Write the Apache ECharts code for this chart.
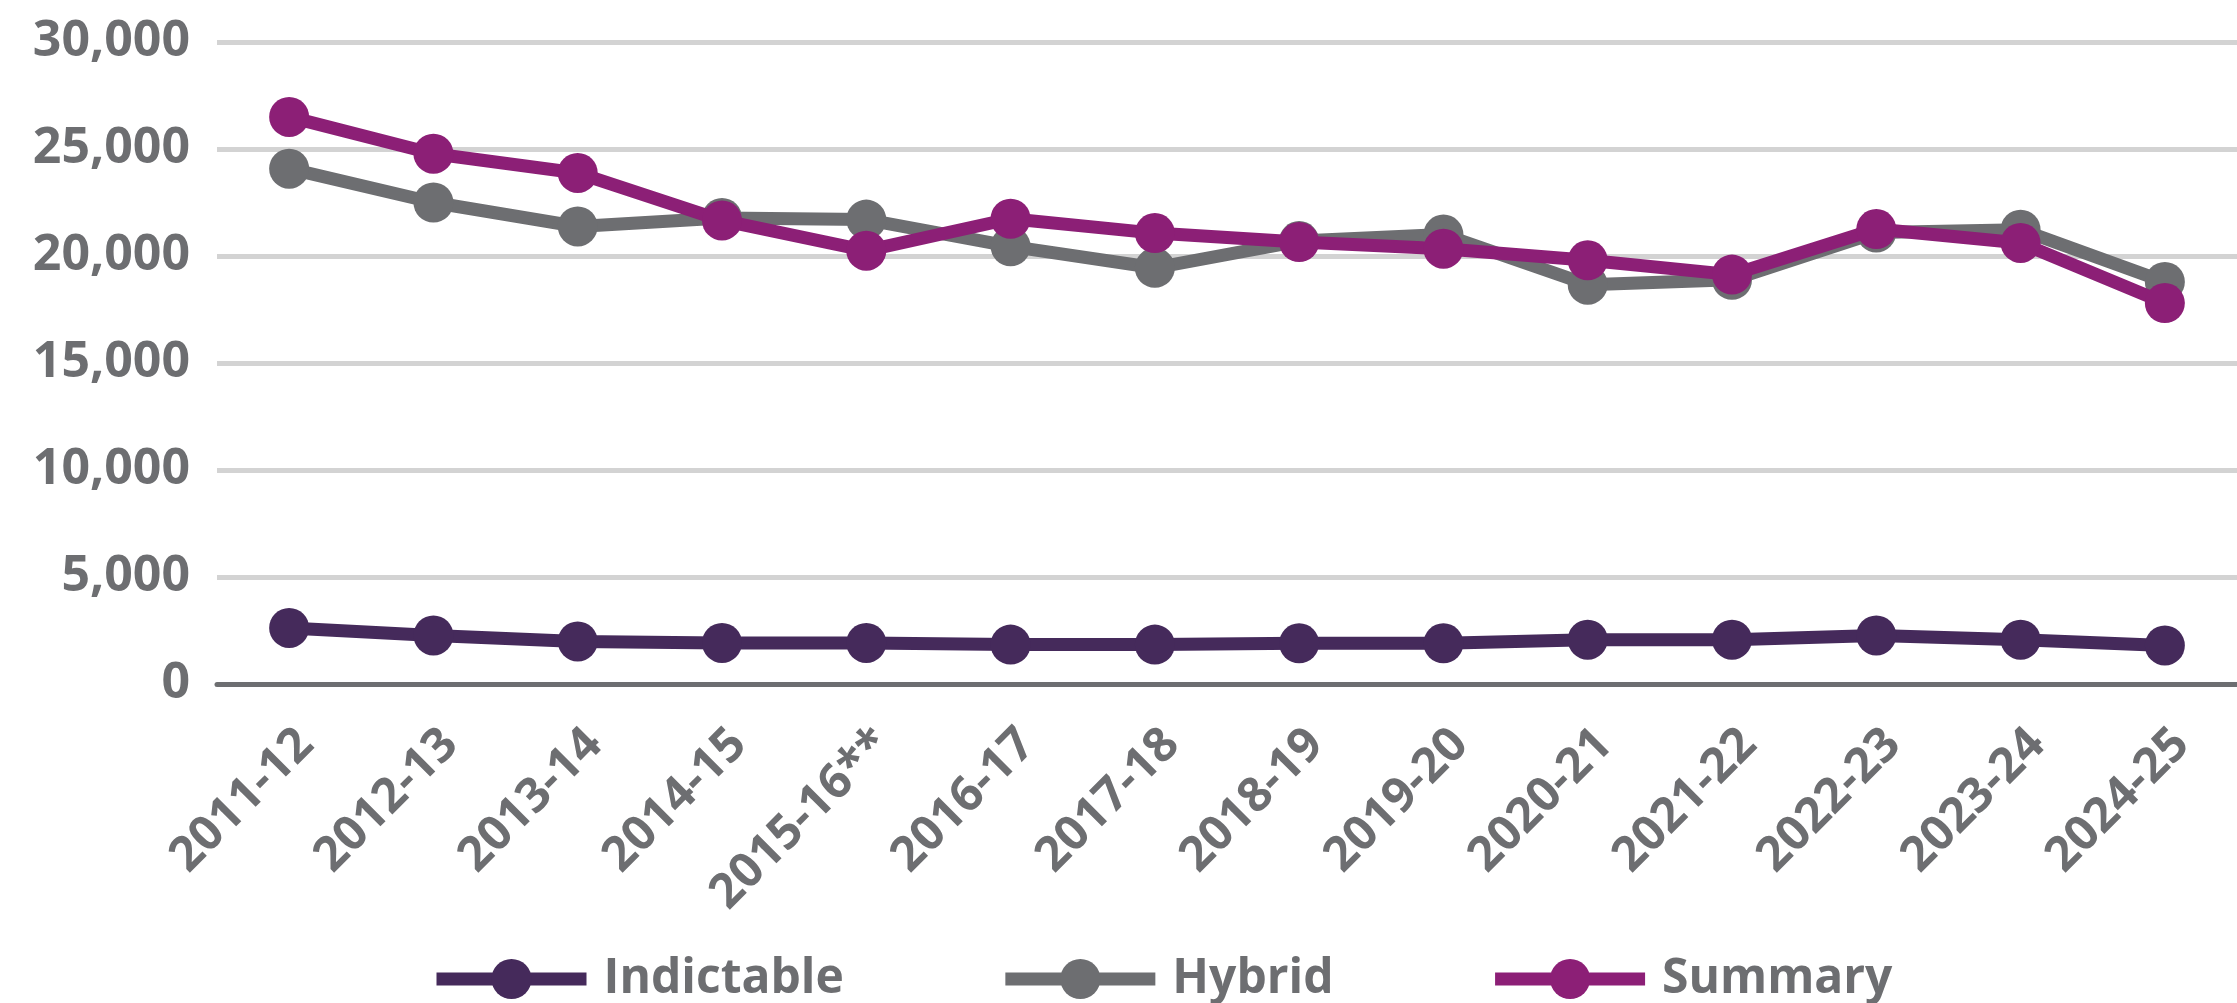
<!DOCTYPE html>
<html>
<head>
<meta charset="utf-8">
<title>Case types by year</title>
<script src="https://cdn.jsdelivr.net/npm/echarts@6/dist/echarts.min.js"></script>
<style>
  html, body { margin: 0; padding: 0; background: #fff; }
  #chart { width: 2237px; height: 1003px; }
</style>
</head>
<body>
<div id="chart"></div>
<script>
// ============ data ============
const years = ['2011-12', '2012-13', '2013-14', '2014-15', '2015-16**', '2016-17', '2017-18',
  '2018-19', '2019-20', '2020-21', '2021-22', '2022-23', '2023-24', '2024-25'];
const indictable = [2620, 2270, 1990, 1920, 1920, 1840, 1840, 1900, 1900, 2070, 2070, 2270, 2070, 1800];
const hybrid = [24080, 22500, 21380, 21780, 21700, 20450, 19450, 20700, 21000, 18660, 18890, 21100, 21230, 18790];
const summary = [26500, 24780, 23880, 21660, 20250, 21740, 21070, 20650, 20340, 19800, 19130, 21260, 20610, 17800];
const yTicks = { min: 0, max: 30000, step: 5000 };

const gray = '#6d6e71';
const font = '"Open Sans", "DejaVu Sans", sans-serif';

function lineSeries(name, data, color, z) {
  return {
    name: name,
    type: 'line',
    data: data,
    z: z,
    symbol: 'circle',
    symbolSize: 40,
    lineStyle: { width: 13, color: color },
    itemStyle: { color: color },
    emphasis: { disabled: true },
  };
}

const chart = echarts.init(document.getElementById('chart'));
chart.setOption({
  animation: false,
  textStyle: { fontFamily: font },
  grid: { left: 217, right: -32, top: 42, bottom: 319, containLabel: false },
  legend: {
    left: 425,
    top: 950,
    itemWidth: 150,
    itemHeight: 50,
    itemGap: 155,
    data: ['Indictable', 'Hybrid', 'Summary'],
    lineStyle: { width: 13 },
    textStyle: { color: gray, fontSize: 48, fontWeight: 'bold', fontFamily: font, padding: [0, 0, 0, 12] },
  },
  xAxis: {
    type: 'category',
    data: years,
    axisTick: { show: false },
    axisLine: { lineStyle: { color: gray, width: 5 } },
    axisLabel: {
      rotate: 45,
      interval: 0,
      margin: 36,
      align: 'right',
      verticalAlign: 'top',
      color: gray,
      fontSize: 48,
      fontWeight: 'bold',
      fontFamily: font,
    },
  },
  yAxis: {
    type: 'value',
    min: yTicks.min,
    max: yTicks.max,
    interval: yTicks.step,
    axisLine: { show: false },
    axisTick: { show: false },
    splitLine: { lineStyle: { color: '#d3d3d3', width: 5 } },
    axisLabel: {
      margin: 27,
      color: gray,
      fontSize: 50,
      fontWeight: 'bold',
      fontFamily: font,
      formatter: v => v.toLocaleString('en-US'),
    },
  },
  series: [
    lineSeries('Indictable', indictable, '#452a5b', 2),
    lineSeries('Hybrid', hybrid, gray, 3),
    lineSeries('Summary', summary, '#8c1f76', 4),
  ],
});
</script>
</body>
</html>
